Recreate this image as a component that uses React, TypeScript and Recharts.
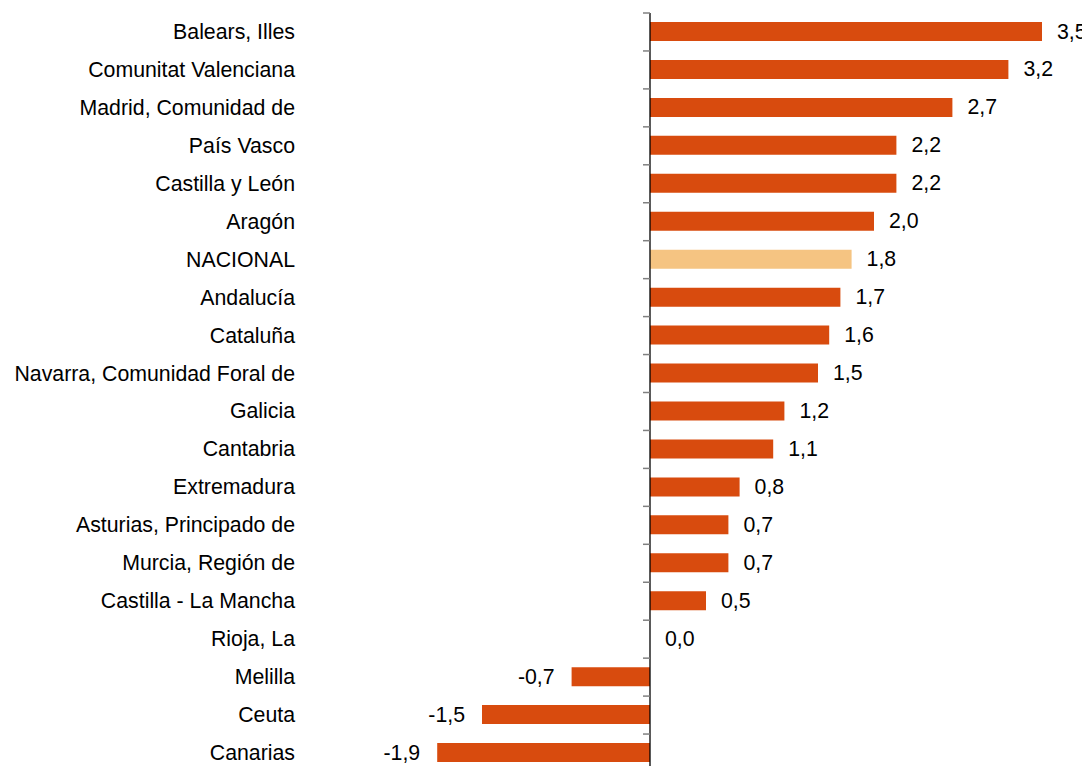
import { BarChart, Bar, XAxis, YAxis, Cell, LabelList, ReferenceLine } from "recharts";

const categories = [
  "Balears, Illes",
  "Comunitat Valenciana",
  "Madrid, Comunidad de",
  "País Vasco",
  "Castilla y León",
  "Aragón",
  "NACIONAL",
  "Andalucía",
  "Cataluña",
  "Navarra, Comunidad Foral de",
  "Galicia",
  "Cantabria",
  "Extremadura",
  "Asturias, Principado de",
  "Murcia, Región de",
  "Castilla - La Mancha",
  "Rioja, La",
  "Melilla",
  "Ceuta",
  "Canarias",
];

const values = [3.5, 3.2, 2.7, 2.2, 2.2, 2.0, 1.8, 1.7, 1.6, 1.5, 1.2, 1.1, 0.8, 0.7, 0.7, 0.5, 0.0, -0.7, -1.5, -1.9];

const highlight = "NACIONAL";

const data = categories.map((name, i) => ({ name, value: values[i] }));

const WIDTH = 1082;
const HEIGHT = 780;
const MARGIN = { top: 5, right: 48, bottom: 16, left: 0 };
const AXIS_W = 418;
const X_MIN = -2;
const X_MAX = 3.5;
const FONT = "'Liberation Sans', Arial, sans-serif";

const plotW = WIDTH - MARGIN.left - AXIS_W - MARGIN.right;
const plotH = HEIGHT - MARGIN.top - MARGIN.bottom;
const band = plotH / categories.length;
const zeroX = MARGIN.left + AXIS_W + ((0 - X_MIN) / (X_MAX - X_MIN)) * plotW;

const fmt = (v: number) => v.toFixed(1).replace(".", ",");

function CategoryTick(props: any) {
  const { y, payload } = props;
  return (
    <g>
      <text
        x={287}
        y={y}
        textAnchor="end"
        dominantBaseline="central"
        fontSize={21.3}
        fontFamily={FONT}
        fill="#000"
      >
        {payload.value}
      </text>
      <line x1={zeroX - 7} x2={zeroX} y1={y - band / 2} y2={y - band / 2} stroke="#808080" strokeWidth={1.5} />
    </g>
  );
}

function ValueLabel(props: any) {
  const { x, y, width, height, value } = props;
  const left = Math.min(x, x + width);
  const right = Math.max(x, x + width);
  const neg = value < 0;
  const start = value === 0 ? zeroX : right;
  return (
    <text
      x={neg ? left - 17 : start + 15}
      y={y + height / 2}
      textAnchor={neg ? "end" : "start"}
      dominantBaseline="central"
      fontSize={21.3}
      fontFamily={FONT}
      fill="#000"
    >
      {fmt(value)}
    </text>
  );
}

export default function App() {
  return (
    <BarChart width={WIDTH} height={HEIGHT} data={data} layout="vertical" margin={MARGIN} barSize={19}>
      <XAxis type="number" domain={[X_MIN, X_MAX]} hide />
      <YAxis
        type="category"
        dataKey="name"
        width={AXIS_W}
        axisLine={false}
        tickLine={false}
        interval={0}
        tick={<CategoryTick />}
      />
      <Bar dataKey="value" isAnimationActive={false} minPointSize={1}>
        {data.map((d, i) => (
          <Cell
            key={`cell-${i}`}
            fill={d.value === 0 ? "none" : d.name === highlight ? "#F5C482" : "#D84B0E"}
          />
        ))}
        <LabelList dataKey="value" content={<ValueLabel />} />
      </Bar>
      <ReferenceLine x={0} stroke="#000" strokeWidth={1.3} />
    </BarChart>
  );
}
